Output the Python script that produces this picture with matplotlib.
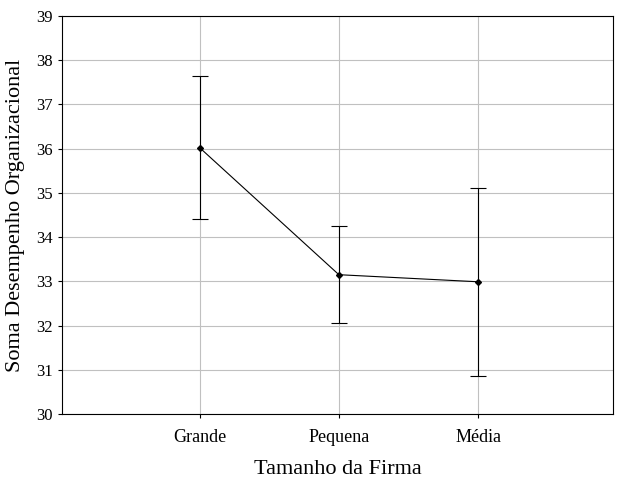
import matplotlib.pyplot as plt

categories = ["Grande", "Pequena", "Média"]
means = [36.02, 33.15, 32.99]
upper = [37.65, 34.25, 35.11]
lower = [34.41, 32.06, 30.86]

plt.rcParams["font.family"] = ["Liberation Serif", "DejaVu Serif"]
fig = plt.figure(figsize=(6.33, 4.83), dpi=100)
ax = fig.add_axes([62/633, 69/483, 551/633, 398/483])
x = list(range(len(categories)))
err = [[m - l for m, l in zip(means, lower)], [u - m for u, m in zip(upper, means)]]
ax.errorbar(x, means, yerr=err, color="black", lw=0.8, marker="D", ms=3,
            capsize=6, elinewidth=0.8, capthick=0.8)
ax.set_xlim(-0.99, 2.97)
ax.set_ylim(30, 39)
ax.set_xticks(x)
ax.set_xticklabels(categories, fontsize=13)
ax.set_yticks(range(30, 40))
ax.tick_params(axis="y", labelsize=12, direction="out", length=3)
ax.tick_params(axis="x", labelsize=13, direction="out", length=3, pad=8)
ax.grid(True, color="#c0c0c0", lw=0.8)
ax.set_axisbelow(True)
ax.set_xlabel("Tamanho da Firma", fontsize=16, labelpad=10)
ax.set_ylabel("Soma Desempenho Organizacional", fontsize=16, labelpad=8)
fig.savefig("out.png")
